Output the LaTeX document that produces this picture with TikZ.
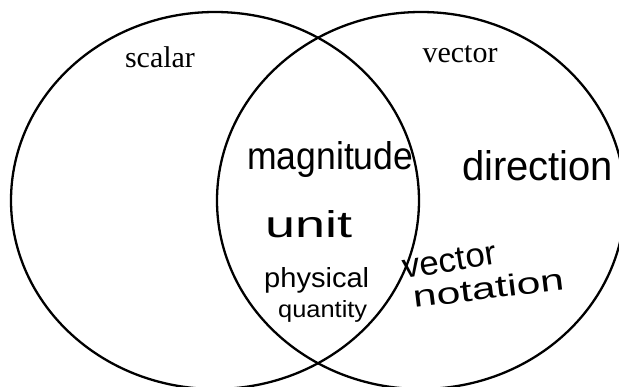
\documentclass[tikz,border=0pt]{standalone}
\usepackage{fontspec}
\setmainfont{Liberation Serif}
\newfontfamily\handfont{Liberation Sans}
\usetikzlibrary{shapes.geometric}
\begin{document}
\begin{tikzpicture}[x=1pt,y=-1pt,
  setshape/.style={draw=black, line width=2.3pt, ellipse, minimum width=408pt, minimum height=377pt, inner sep=0pt, outer sep=0pt},
  typed/.style={font=\fontsize{30}{30}\selectfont, inner sep=0pt, anchor=base},
  hand/.style={font=\handfont, inner sep=0pt, anchor=base west}]
\useasboundingbox (0,0) rectangle (619,387);
\node[setshape] (scalarset) at (215,200.5) {};
\node[setshape] (vectorset) at (421,200.5) {};
\node[typed] (scalar) at (160,68) {scalar};
\node[typed] (vector) at (460,63) {vector};
\node[hand] (magnitude) at (247,170) {\resizebox{166pt}{28pt}{magnitude}};
\node[hand] (direction) at (462,181) {\resizebox{151pt}{30pt}{direction}};
\node[hand] (unit) at (265,238) {\resizebox{87pt}{27pt}{unit}};
\node[hand] (physical) at (264,288) {\resizebox{105pt}{20pt}{physical}};
\node[hand] (quantity) at (278,318) {\resizebox{89pt}{17pt}{quantity}};
\node[hand, rotate=9] (vectorhand) at (404,279) {\resizebox{95pt}{22pt}{vector}};
\node[hand, rotate=7] (notation) at (414,308) {\resizebox{152pt}{22pt}{notation}};
\end{tikzpicture}
\end{document}
